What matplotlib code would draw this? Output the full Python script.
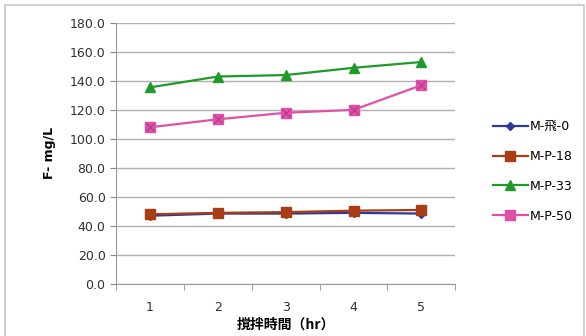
import matplotlib
matplotlib.use("Agg")
from matplotlib import pyplot as plt
from matplotlib.patches import Rectangle

plt.rcParams['font.family'] = ['DejaVu Sans', 'Noto Sans CJK JP']

hours = [1, 2, 3, 4, 5]
m_hi_0 = [47.0, 48.5, 48.5, 49.0, 48.5]
m_p_18 = [48.0, 49.0, 49.5, 50.5, 51.0]
m_p_33 = [135.5, 143.0, 144.0, 149.0, 153.0]
m_p_50 = [108.0, 113.5, 118.0, 120.0, 137.0]
yticks = [0, 20, 40, 60, 80, 100, 120, 140, 160, 180]

fig = plt.figure(figsize=(5.86, 3.36), dpi=100)
fig.patches.append(Rectangle((0.009, -0.01), 0.988, 0.995, transform=fig.transFigure,
                             fill=False, edgecolor='#c8c8c8', linewidth=1.2))
ax = fig.add_axes([0.198, 0.155, 0.579, 0.777])

ax.plot(hours, m_hi_0, color='#2b3a9a', marker='D', markersize=4.5, linewidth=1.6, label='M-飛-0')
ax.plot(hours, m_p_18, color='#a83c14', marker='s', markersize=6.5, linewidth=1.6, label='M-P-18')
ax.plot(hours, m_p_33, color='#1f9a2a', marker='^', markersize=6.5, linewidth=1.6, label='M-P-33')
ax.plot(hours, m_p_50, color='#e050a8', marker='s', markersize=7.5, linewidth=1.6, label='M-P-50')
ax.plot(hours, m_p_50, linestyle='none', marker='x', markersize=5.5, color='#b03a88', markeredgewidth=0.8)

ax.set_xlim(0.5, 5.5)
ax.set_ylim(0, 180)
ax.set_yticks(yticks)
ax.set_yticklabels(['%.1f' % v for v in yticks], fontsize=9, color='#303030')
ax.set_xticks(hours)
ax.set_xticklabels([str(h) for h in hours], fontsize=9, color='#303030')
ax.set_xticks([0.5, 1.5, 2.5, 3.5, 4.5, 5.5], minor=True)
ax.tick_params(axis='x', which='major', length=0, pad=12)
ax.tick_params(axis='x', which='minor', length=4, color='#888888', direction='out')
ax.tick_params(axis='y', length=4, color='#888888', direction='out')
ax.grid(axis='y', color='#b0b0b0', linewidth=1)
ax.set_axisbelow(True)
for s in ['top', 'right']:
    ax.spines[s].set_visible(False)
ax.spines['left'].set_color('#999999')
ax.spines['bottom'].set_color('#999999')

ax.set_ylabel('F- mg/L', fontsize=9, fontweight='bold', labelpad=10)
ax.set_xlabel('撹拌時間（hr）', fontsize=10, fontweight='bold', labelpad=3,
              family=['Noto Sans CJK JP', 'DejaVu Sans'])

leg = fig.legend(loc='center left', bbox_to_anchor=(0.822, 0.49), frameon=False,
                 handlelength=2.8, labelspacing=1.35, handletextpad=0.15,
                 prop={'family': ['DejaVu Sans', 'Noto Sans CJK JP'], 'size': 9})

fig.savefig('out.png', dpi=100)
